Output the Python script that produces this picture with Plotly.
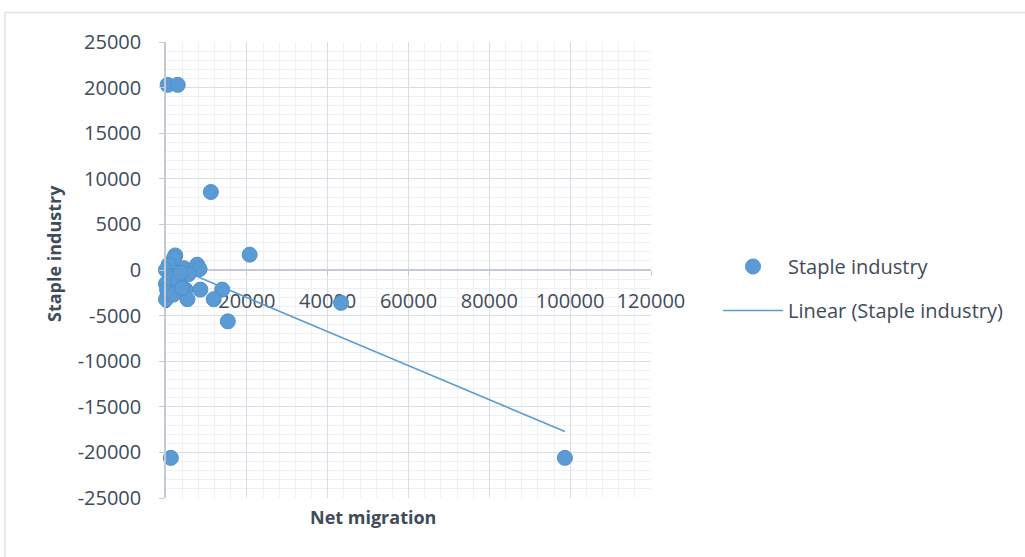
import numpy as np
import plotly.graph_objects as go

# ---- data ----
net_migration = [400, 2900, 11100, 20700, 2300, 2000, 650, 0, 4400, 7700, 8300,
                 1050, 3100, 5600, 0, 250, 4800, 8500, 13900, 11800, 5300, 0,
                 43300, 15300, 1200, 98700,
                 1500, 2200, 3400, 600, 2900, 1800, 4000, 3600]
staple_industry = [20300, 20300, 8550, 1680, 1600, 1300, 580, 0, 200, 580, 100,
                   -700, -900, -450, -1500, -2150, -2150, -2150, -2150, -3200, -3200, -3200,
                   -3600, -5630, -20600, -20600,
                   -1000, -2300, -1600, -2500, -1100, -2700, -2000, -300]
x_tick_vals = [0, 20000, 40000, 60000, 80000, 100000, 120000]
y_tick_vals = [25000, 20000, 15000, 10000, 5000, 0, -5000, -10000, -15000, -20000, -25000]

series_name = "Staple industry"
trend_name = "Linear (Staple industry)"
x_title = "Net migration"
y_title = "Staple industry"

# linear trendline (least squares) across the data range
slope, intercept = np.polyfit(net_migration, staple_industry, 1)
trend_x = [min(net_migration), max(net_migration)]
trend_y = [intercept + slope * v for v in trend_x]

BLUE = "#5b9bd5"
TEXT = "#404b5a"
FONT = "Open Sans"
W, H = 1025, 557
L, R, T, B = 166, 374, 42, 59
PW, PH = W - L - R, H - T - B


def px_x(p):
    return (p - L) / PW


def px_y(p):
    return (H - B - p) / PH


fig = go.Figure()
fig.add_trace(go.Scatter(
    x=net_migration, y=staple_industry, mode="markers", name=series_name,
    legendgroup="a", cliponaxis=False,
    marker=dict(size=15, color=BLUE, line=dict(color="#4f8fcc", width=1)),
))
fig.add_trace(go.Scatter(
    x=trend_x, y=trend_y, mode="lines", name=trend_name,
    legendgroup="b",
    line=dict(color=BLUE, width=1.6),
))

fig.update_layout(
    width=W, height=H,
    margin=dict(l=L, r=R, t=T, b=B, pad=0, autoexpand=False),
    paper_bgcolor="white", plot_bgcolor="white",
    font=dict(family=FONT, size=20, color=TEXT),
    showlegend=True,
    legend=dict(x=px_x(718), y=px_y(247), xanchor="left", yanchor="top",
                font=dict(size=20, color=TEXT), tracegroupgap=15,
                itemwidth=60, bgcolor="rgba(0,0,0,0)"),
    xaxis=dict(
        range=[0, 120000], tickvals=x_tick_vals, ticktext=[str(v) for v in x_tick_vals],
        anchor="free", position=0.5, automargin=False,
        showline=True, linecolor="#c3cad4", linewidth=1.5,
        ticks="outside", ticklen=5, tickcolor="#c3cad4",
        showgrid=True, gridcolor="#d9dee6", gridwidth=1.3,
        minor=dict(dtick=4000, showgrid=True, gridcolor="#eef0f3", gridwidth=1),
        zeroline=False, layer="below traces", ticklabelstandoff=8,
    ),
    yaxis=dict(
        range=[-25000, 25000], tickvals=y_tick_vals, ticktext=[str(v) for v in y_tick_vals],
        automargin=False,
        showline=True, linecolor="#c3cad4", linewidth=1.5,
        ticks="outside", ticklen=5, tickcolor="#c3cad4",
        showgrid=True, gridcolor="#d9dee6", gridwidth=1.3,
        minor=dict(dtick=1000, showgrid=True, gridcolor="#eef0f3", gridwidth=1),
        zeroline=False, ticklabelstandoff=14,
    ),
    annotations=[
        dict(text=f"<b>{x_title}</b>", x=px_x(373), y=px_y(517), xref="paper", yref="paper",
             showarrow=False, xanchor="center", yanchor="middle", font=dict(size=18, color=TEXT)),
        dict(text=f"<b>{y_title}</b>", x=px_x(54), y=px_y(254), xref="paper", yref="paper",
             showarrow=False, xanchor="center", yanchor="middle", textangle=-90,
             font=dict(size=18, color=TEXT)),
    ],
    shapes=[
        dict(type="line", xref="paper", yref="paper", x0=px_x(5), x1=px_x(1025),
             y0=px_y(12.5), y1=px_y(12.5), line=dict(color="#dde1e6", width=1.5)),
        dict(type="line", xref="paper", yref="paper", x0=px_x(5), x1=px_x(5),
             y0=px_y(12.5), y1=px_y(557), line=dict(color="#dde1e6", width=1.5)),
    ],
)

fig.write_html("out.html", config={"displayModeBar": False},
               post_script="document.body.style.margin='0px';")
